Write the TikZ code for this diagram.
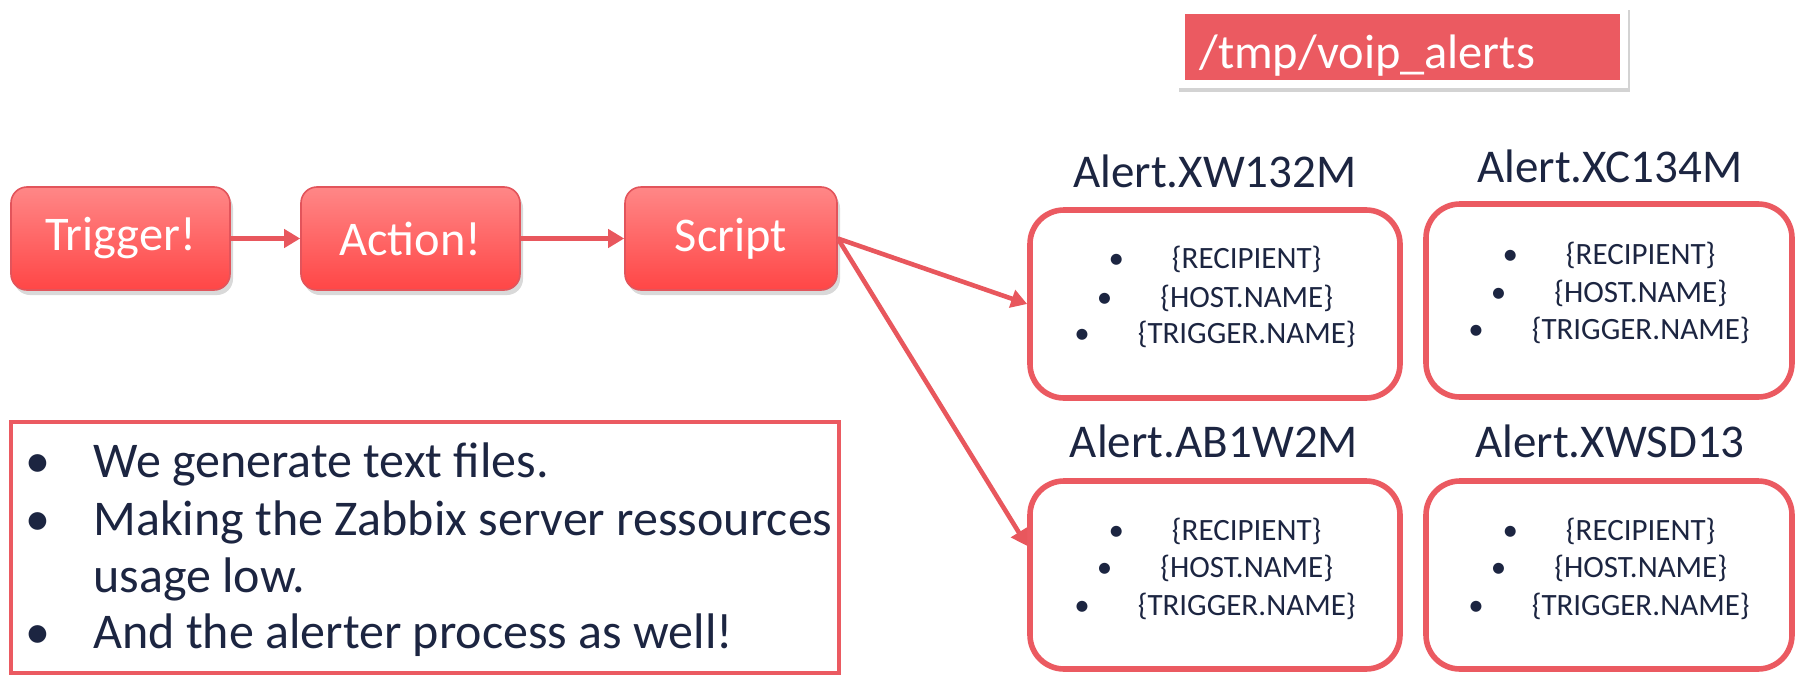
\documentclass[tikz,border=0pt]{standalone}
\usepackage{fontspec}
\setmainfont{Carlito}
\usetikzlibrary{shadows,arrows.meta,calc}
\definecolor{accent}{HTML}{EB5A61}
\definecolor{arrowred}{HTML}{E8575D}
\definecolor{navy}{HTML}{1C2541}
\definecolor{flowtop}{HTML}{FF8787}
\definecolor{flowbot}{HTML}{FF4646}
\definecolor{flowedge}{HTML}{E2545B}
\begin{document}
\begin{tikzpicture}[x=0.5pt,y=-0.5pt,
  flowbox/.style={draw=flowedge, line width=0.8pt, rounded corners=8pt,
    top color=flowtop, bottom color=flowbot, minimum height=51.5pt,
    text=white, font=\fontsize{24.2}{28}\selectfont, inner sep=0pt,
    drop shadow={shadow xshift=1.5pt, shadow yshift=-2.5pt, opacity=0.3}},
  alertbox/.style={draw=accent, line width=2.8pt, rounded corners=17pt,
    minimum width=185pt, minimum height=94pt, inner sep=0pt},
  alertlabel/.style={anchor=base, text=navy, inner sep=0pt,
    font=\fontsize{23.5}{28}\selectfont},
  fieldline/.style={anchor=base, text=navy, inner sep=0pt,
    font=\fontsize{15.5}{19}\selectfont},
  noteline/.style={anchor=base west, text=navy, inner sep=0pt,
    font=\fontsize{25}{30}\selectfont},
  flowarrow/.style={draw=arrowred, line width=2.3pt,
    -{Triangle[length=8pt,width=9pt]}},
]
\useasboundingbox (0,0) rectangle (1796,675);

% directory banner
\node[fill=white, minimum width=225.5pt, minimum height=41pt, inner sep=0pt,
  drop shadow={shadow xshift=1pt, shadow yshift=-2pt, opacity=0.35}]
  (tmpframe) at (1402.5,47) {};
\node[fill=accent, minimum width=217.5pt, minimum height=33pt, inner sep=0pt]
  (tmpfill) at (1402.5,47) {};
\node[anchor=base west, text=white, inner sep=0pt,
  font=\fontsize{24.2}{28}\selectfont] (tmptext) at (1199,68) {/tmp/voip\_alerts};

% flow boxes
\node[flowbox, minimum width=109.5pt] (trigger) at (120.5,238.5) {Trigger!};
\node[flowbox, minimum width=109.5pt] (action) at (410.5,238.5) {Action!};
\node[flowbox, minimum width=106pt] (script) at (731,238.5) {Script};

\draw[flowarrow] (trigger) -- (action);
\draw[flowarrow] (action) -- (script);

% alert boxes
\node[alertbox] (b1) at (1215,304) {};
\node[alertbox, minimum width=183pt, minimum height=96.5pt] (b2) at (1609,300.5) {};
\node[alertbox] (b3) at (1215,575) {};
\node[alertbox, minimum width=183pt] (b4) at (1609,575) {};

\node[alertlabel] (l1) at (1215,187) {Alert.XW132M};
\node[alertlabel] (l2) at (1610,182) {Alert.XC134M};
\node[alertlabel] (l3) at (1214,457) {Alert.AB1W2M};
\node[alertlabel] (l4) at (1610,457) {Alert.XWSD13};

\newcommand{\fieldrow}[1]{\textbullet\hspace{24pt}\{#1\}}
\node[fieldline] (b1r) at (1215,268) {\fieldrow{RECIPIENT}};
\node[fieldline] (b1h) at (1215,307) {\fieldrow{HOST.NAME}};
\node[fieldline] (b1t) at (1215,343) {\fieldrow{TRIGGER.NAME}};
\node[fieldline] (b2r) at (1609,264) {\fieldrow{RECIPIENT}};
\node[fieldline] (b2h) at (1609,302) {\fieldrow{HOST.NAME}};
\node[fieldline] (b2t) at (1609,339) {\fieldrow{TRIGGER.NAME}};
\node[fieldline] (b3r) at (1215,540) {\fieldrow{RECIPIENT}};
\node[fieldline] (b3h) at (1215,577) {\fieldrow{HOST.NAME}};
\node[fieldline] (b3t) at (1215,615) {\fieldrow{TRIGGER.NAME}};
\node[fieldline] (b4r) at (1609,540) {\fieldrow{RECIPIENT}};
\node[fieldline] (b4h) at (1609,577) {\fieldrow{HOST.NAME}};
\node[fieldline] (b4t) at (1609,615) {\fieldrow{TRIGGER.NAME}};

% script connectors
\coordinate (b3in) at ($(b3.north west)!0.35!(b3.south west)$);
\draw[flowarrow] (script.east) -- (b1.west);
\draw[flowarrow] (script.east) -- (b3in);

% note box
\node[draw=accent, line width=2pt, minimum width=414pt, minimum height=125.5pt,
  inner sep=0pt] (note) at (425,547.5) {};
\node[noteline, anchor=base] (n1b) at (38,477) {\textbullet};
\node[noteline] (n1) at (93,477) {We generate text files.};
\node[noteline, anchor=base] (n2b) at (38,535) {\textbullet};
\node[noteline] (n2) at (93,535) {Making the Zabbix server ressources};
\node[noteline] (n2c) at (93,592) {usage low.};
\node[noteline, anchor=base] (n3b) at (38,648) {\textbullet};
\node[noteline] (n3) at (93,648) {And the alerter process as well!};
\end{tikzpicture}
\end{document}
